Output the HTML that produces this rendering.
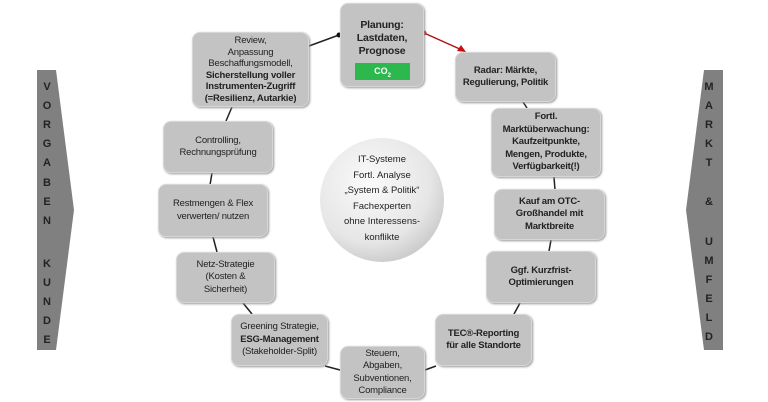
<!DOCTYPE html>
<html><head><meta charset="utf-8"><style>
body{margin:0;width:768px;height:402px;background:#fff;position:relative;overflow:hidden;font-family:"Liberation Sans",sans-serif;}
.b{position:absolute;background:#c3c3c3;border:1px solid #d6d6d6;border-radius:8px;box-shadow:1px 1px 2px #999;display:flex;align-items:center;justify-content:center;text-align:center;font-size:9.5px;line-height:12.5px;color:#222;box-sizing:border-box;letter-spacing:-0.2px;}
.bd{font-weight:bold;}
.L{position:absolute;font-size:11px;font-weight:bold;color:#222;width:20px;text-align:center;}
svg{position:absolute;left:0;top:0;}
</style></head><body>
<svg width="768" height="402">
<defs><radialGradient id="g" cx="40%" cy="35%" r="70%"><stop offset="0" stop-color="#fafafa"/><stop offset="0.7" stop-color="#e6e6e6"/><stop offset="1" stop-color="#c8c8c8"/></radialGradient></defs>
<polygon points="37,70 56,70 74,210 56,350 37,350" fill="#808080"/>
<polygon points="723,70 704,70 686,210 704,350 723,350" fill="#808080"/>
<circle cx="382" cy="200" r="62" fill="url(#g)"/>
<g stroke="#222" stroke-width="1.5">
<line x1="298" y1="50" x2="339" y2="35"/>
<line x1="232" y1="107" x2="226" y2="121"/>
<line x1="212" y1="173" x2="210" y2="185"/>
<line x1="213" y1="237" x2="217" y2="252"/>
<line x1="243" y1="303" x2="252" y2="314"/>
<line x1="325" y1="366" x2="340" y2="370"/>
<line x1="425" y1="370" x2="436" y2="366"/>
<line x1="520" y1="303" x2="514" y2="314"/>
<line x1="551" y1="240" x2="549" y2="251"/>
<line x1="554" y1="177" x2="555" y2="190"/>
<line x1="523" y1="102" x2="527" y2="108"/>
</g>
<circle cx="339" cy="35" r="2.5" fill="#111"/>
<line x1="424" y1="33" x2="462" y2="50" stroke="#b01010" stroke-width="1.5"/>
<circle cx="424" cy="33" r="2.5" fill="#c01010"/>
<polygon points="466,52 457,51 461,45" fill="#c01010"/>
</svg>
<div class="b bd" style="left:340px;top:3px;width:84px;height:84px;align-items:flex-start;padding-top:15px;font-size:10.5px;line-height:13px"><div>Planung:<br>Lastdaten,<br>Prognose</div></div>
<div style="position:absolute;left:355px;top:63px;width:55px;height:17px;background:#2db84d;color:#fff;font-size:9px;font-weight:bold;text-align:center;line-height:17px">CO<sub style="font-size:6px">2</sub></div>
<div class="b" style="left:192px;top:32px;width:117px;height:75px;line-height:11.5px"><div>Review,<br>Anpassung<br>Beschaffungsmodell,<br><b>Sicherstellung voller<br>Instrumenten-Zugriff<br>(=Resilienz, Autarkie)</b></div></div>
<div class="b bd" style="left:455px;top:52px;width:101px;height:50px"><div>Radar: Märkte,<br>Regulierung, Politik</div></div>
<div class="b bd" style="left:491px;top:108px;width:110px;height:69px"><div>Fortl.<br>Marktüberwachung:<br>Kaufzeitpunkte,<br>Mengen, Produkte,<br>Verfügbarkeit(!)</div></div>
<div class="b" style="left:163px;top:121px;width:110px;height:52px"><div>Controlling,<br>Rechnungsprüfung</div></div>
<div class="b bd" style="left:494px;top:189px;width:111px;height:51px"><div>Kauf am OTC-<br>Großhandel mit<br>Marktbreite</div></div>
<div class="b" style="left:158px;top:184px;width:110px;height:53px"><div>Restmengen &amp; Flex<br>verwerten/ nutzen</div></div>
<div class="b bd" style="left:486px;top:251px;width:110px;height:52px"><div>Ggf. Kurzfrist-<br>Optimierungen</div></div>
<div class="b" style="left:176px;top:252px;width:99px;height:51px"><div>Netz-Strategie<br>(Kosten &amp;<br>Sicherheit)</div></div>
<div class="b" style="left:231px;top:314px;width:97px;height:52px"><div>Greening Strategie,<br><b>ESG-Management</b><br>(Stakeholder-Split)</div></div>
<div class="b bd" style="left:435px;top:314px;width:97px;height:52px"><div>TEC®-Reporting<br>für alle Standorte</div></div>
<div class="b" style="left:340px;top:346px;width:85px;height:53px"><div>Steuern,<br>Abgaben,<br>Subventionen,<br>Compliance</div></div>
<div style="position:absolute;left:320px;top:152px;width:124px;text-align:center;font-size:9.5px;line-height:15.5px;color:#222">IT-Systeme<br>Fortl. Analyse<br>„System &amp; Politik“<br>Fachexperten<br>ohne Interessens-<br>konflikte</div>
<div class="L" style="left:37px;top:81px">V</div><div class="L" style="left:37px;top:100px">O</div><div class="L" style="left:37px;top:119px">R</div><div class="L" style="left:37px;top:138px">G</div><div class="L" style="left:37px;top:157px">A</div><div class="L" style="left:37px;top:177px">B</div><div class="L" style="left:37px;top:196px">E</div><div class="L" style="left:37px;top:215px">N</div><div class="L" style="left:37px;top:258px">K</div><div class="L" style="left:37px;top:277px">U</div><div class="L" style="left:37px;top:296px">N</div><div class="L" style="left:37px;top:315px">D</div><div class="L" style="left:37px;top:334px">E</div>
<div class="L" style="left:699px;top:81px">M</div><div class="L" style="left:699px;top:100px">A</div><div class="L" style="left:699px;top:119px">R</div><div class="L" style="left:699px;top:138px">K</div><div class="L" style="left:699px;top:157px">T</div><div class="L" style="left:699px;top:196px">&amp;</div><div class="L" style="left:699px;top:236px">U</div><div class="L" style="left:699px;top:255px">M</div><div class="L" style="left:699px;top:274px">F</div><div class="L" style="left:699px;top:293px">E</div><div class="L" style="left:699px;top:312px">L</div><div class="L" style="left:699px;top:331px">D</div>
</body></html>
